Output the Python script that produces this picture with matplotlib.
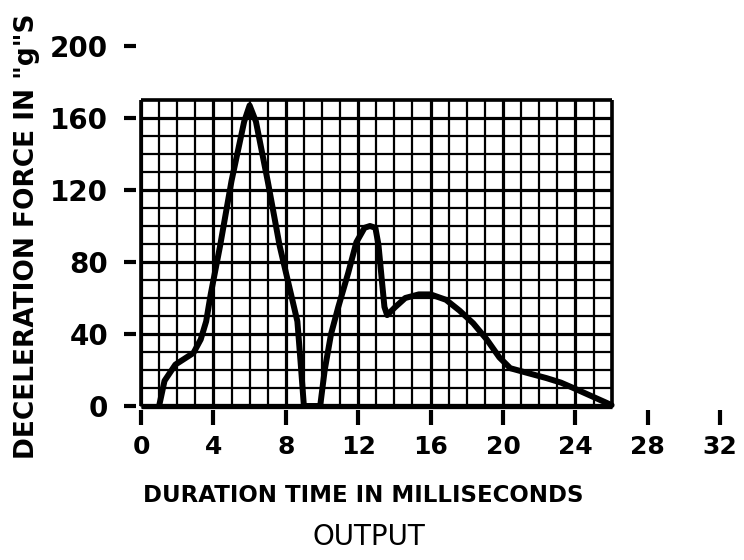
import matplotlib.pyplot as plt
import numpy as np

# values (grid = 1 ms x 10 g)
time_ms = [1.0, 1.3, 1.9, 2.9, 3.3, 3.6, 3.85, 4.37, 5.0, 5.7, 6.0, 6.35, 7.0,
           7.66, 8.64, 8.82, 9.0, 9.9, 10.15, 10.5, 10.9, 11.45, 11.9, 12.35,
           12.65, 12.95, 13.12, 13.3, 13.45, 13.6, 14.05, 14.6, 15.35, 16.0,
           16.85, 17.6, 18.35, 19.1, 19.8, 20.4, 21.3, 22.4, 23.2, 24.0, 25.0,
           26.0]
force_g = [0, 14, 23, 29.5, 37, 47, 62, 89, 125, 158, 167, 158, 125,
           89, 47, 24, 0, 0, 20, 40, 55, 74, 91, 99,
           100, 99, 89.5, 70.5, 55, 50.5, 55, 60, 62, 62,
           59, 53, 46, 37, 27, 21, 18.5, 15.5, 13, 9.5, 5,
           0.5]

x_ticks = [0, 4, 8, 12, 16, 20, 24, 28, 32]
y_ticks = [0, 40, 80, 120, 160, 200]
grid_t_max = 26
grid_g_max = 170

plt.rcParams['font.family'] = 'DejaVu Sans'

fig = plt.figure(figsize=(7.44, 5.6), dpi=100)
# 18.1 px per ms, 1.8 px per g
ax = fig.add_axes([122.9 / 744, 154 / 560, 615.4 / 744, 369 / 560])
ax.set_xlim(-1, 33)
ax.set_ylim(0, 205)

for s in ax.spines.values():
    s.set_visible(False)
ax.spines['left'].set_position(('data', -0.25))
ax.spines['bottom'].set_position(('data', -2))

# graph paper
minor_t = [t for t in range(grid_t_max + 1) if t % 4]
major_t = [t for t in range(grid_t_max + 1) if t % 4 == 0]
minor_g = [g for g in range(0, grid_g_max + 1, 10) if g % 40]
major_g = [g for g in range(0, grid_g_max + 1, 10) if g % 40 == 0]
ax.vlines(minor_t, 0, grid_g_max, color='black', lw=1.6, clip_on=False)
ax.vlines(major_t, 0, grid_g_max, color='black', lw=2.3, clip_on=False)
ax.hlines(minor_g, 0, grid_t_max, color='black', lw=1.6, clip_on=False)
ax.hlines(major_g, 0, grid_t_max, color='black', lw=2.3, clip_on=False)
ax.vlines([0, grid_t_max], 0, grid_g_max, color='black', lw=2.6, clip_on=False)
ax.hlines(grid_g_max, 0, grid_t_max, color='black', lw=2.6, clip_on=False)
ax.hlines(0, 0, grid_t_max, color='black', lw=3.8, clip_on=False)

ax.plot(time_ms, force_g, color='black', lw=4.3,
        solid_joinstyle='round', solid_capstyle='round', zorder=5, clip_on=False)

ax.set_xticks(x_ticks)
ax.set_xticklabels([str(v) for v in x_ticks], fontweight='bold')
ax.set_yticks(y_ticks)
ax.set_yticklabels([str(v) for v in y_ticks], fontweight='bold')
ax.tick_params(axis='x', length=11, width=3, pad=7, labelsize=18)
ax.tick_params(axis='y', length=8.5, width=3, pad=12, labelsize=20)

fig.text(27 / 744, 1 - 236 / 560, 'DECELERATION FORCE IN "g"S', rotation=90,
         ha='center', va='center', fontsize=19, fontweight='bold')
fig.text(363 / 744, 1 - 496 / 560, 'DURATION TIME IN MILLISECONDS',
         ha='center', va='center', fontsize=16.5, fontweight='bold')
fig.text(369 / 744, 1 - 537 / 560, 'OUTPUT',
         ha='center', va='center', fontsize=20)

fig.savefig('out.png', dpi=100)
